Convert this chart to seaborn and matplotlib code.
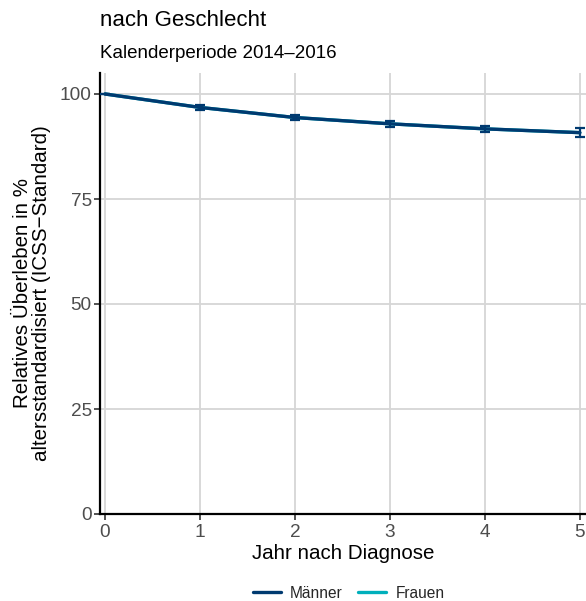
import matplotlib
matplotlib.use("Agg")
import matplotlib.pyplot as plt
import seaborn as sns
import pandas as pd
from matplotlib.lines import Line2D

years = [0, 1, 2, 3, 4, 5]
maenner = [100.0, 96.8, 94.4, 92.9, 91.7, 90.8]
maenner_lo = [100.0, 96.3, 93.8, 92.2, 90.9, 89.8]
maenner_hi = [100.0, 97.3, 95.0, 93.6, 92.5, 91.8]
frauen = [100.0, 96.8, 94.4, 92.9, 91.7, 90.8]
series_names = ["Männer", "Frauen"]
colors = {"Männer": "#003A70", "Frauen": "#00AFBB"}
yticks = [0, 25, 50, 75, 100]

df = pd.DataFrame({
    "Jahr": years * 2,
    "Wert": frauen + maenner,
    "Geschlecht": ["Frauen"] * len(years) + ["Männer"] * len(years),
})

sns.set_theme(style="white")
plt.rcParams["font.family"] = ["Liberation Sans", "DejaVu Sans"]

fig = plt.figure(figsize=(5.86, 6.01), dpi=100)
ax = fig.add_axes([100 / 586, 1 - 514 / 601, 486 / 586, (514 - 73) / 601])

sns.lineplot(data=df, x="Jahr", y="Wert", hue="Geschlecht", hue_order=["Frauen", "Männer"],
             palette=colors, linewidth=2.4, ax=ax, legend=False, zorder=3)

ax.errorbar(years, maenner,
            yerr=[[m - l for m, l in zip(maenner, maenner_lo)],
                  [h - m for m, h in zip(maenner, maenner_hi)]],
            fmt="none", ecolor=colors["Männer"], elinewidth=1.6, capsize=3.8, capthick=1.6, zorder=4)

ax.set_xlim(-0.053, 5.065)
ax.set_ylim(0, 105)
ax.set_xticks(years)
ax.set_yticks(yticks)
ax.grid(True, color="#D6D6D6", linewidth=1.3)
ax.set_axisbelow(True)
for s in ["top", "right"]:
    ax.spines[s].set_visible(False)
for s in ["left", "bottom"]:
    ax.spines[s].set_color("black")
    ax.spines[s].set_linewidth(1.6)
ax.tick_params(axis="both", which="both", length=4, width=1.2, color="#333333",
               labelcolor="#4D4D4D", labelsize=13.7, pad=2, bottom=True, left=True)
ax.tick_params(axis="x", pad=3.5)

ax.set_xlabel("Jahr nach Diagnose", fontsize=14.8, color="black", labelpad=2)
ax.set_ylabel("Relatives Überleben in %\naltersstandardisiert (ICSS\u2212Standard)",
              fontsize=14.8, color="black", labelpad=6, linespacing=1.0)

fig.text(100 / 586, 1 - 20 / 601, "nach Geschlecht", fontsize=16, va="center", ha="left", color="black")
fig.text(100 / 586, 1 - 53 / 601, "Kalenderperiode 2014\u20132016", fontsize=13.5, va="center", ha="left", color="black")

handles = [Line2D([0], [0], color=colors[n], linewidth=2.4) for n in series_names]
fig.legend(handles, series_names, loc="center", bbox_to_anchor=(0.595, 1 - 593 / 601),
           ncol=2, frameon=False, fontsize=11.2, handlelength=1.8, columnspacing=1.0,
           handletextpad=0.6)

fig.savefig("out.png", dpi=100)
